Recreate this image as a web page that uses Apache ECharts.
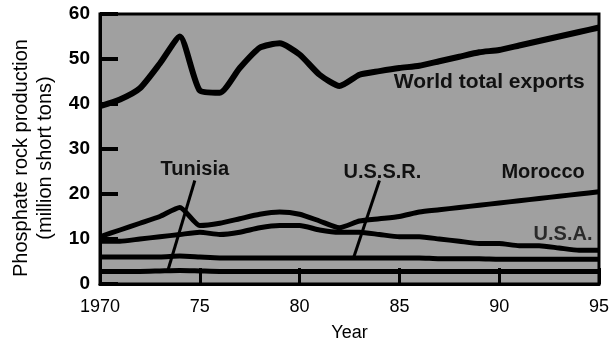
<!DOCTYPE html>
<html>
<head>
<meta charset="utf-8">
<script src="https://cdn.jsdelivr.net/npm/echarts@6/dist/echarts.min.js"></script>
<style>
  html, body { margin: 0; padding: 0; background: #fff; }
  #chart { width: 612px; height: 347px; }
</style>
</head>
<body>
<div id="chart"></div>
<script>
// ---- data (million short tons) ----
const years = [1970, 1971, 1972, 1973, 1974, 1975, 1976, 1977, 1978, 1979, 1980, 1981, 1982,
               1983, 1984, 1985, 1986, 1987, 1988, 1989, 1990, 1991, 1992, 1993, 1994, 1995];
const worldTotal = [39.5, 41, 43.5, 49, 55, 43, 42.5, 48, 52.5, 53.5, 51, 46.5, 44,
                    46.5, 47.3, 48, 48.5, 49.5, 50.5, 51.5, 52, 53, 54, 55, 56, 57];
const morocco = [10.5, 12, 13.5, 15, 17, 13, 13.5, 14.5, 15.5, 16, 15.5, 14, 12.5,
                 14, 14.5, 15, 16, 16.5, 17, 17.5, 18, 18.5, 19, 19.5, 20, 20.5];
const usa = [9.5, 9.5, 10, 10.5, 11, 11.5, 11, 11.5, 12.5, 13, 13, 12, 11.5,
             11.5, 11, 10.5, 10.5, 10, 9.5, 9, 9, 8.5, 8.5, 8, 7.5, 7.5];
const ussr = [6, 6, 6, 6, 6.2, 6, 5.8, 5.8, 5.8, 5.8, 5.8, 5.8, 5.8,
              5.8, 5.8, 5.8, 5.8, 5.6, 5.6, 5.6, 5.5, 5.5, 5.5, 5.5, 5.5, 5.5];
const tunisia = [2.8, 2.8, 2.8, 2.9, 3, 2.9, 2.8, 2.8, 2.8, 2.8, 2.8, 2.8, 2.8,
                 2.8, 2.8, 2.8, 2.8, 2.8, 2.8, 2.8, 2.8, 2.8, 2.8, 2.8, 2.8, 2.8];
const xTickLabels = {1970: '1970', 1975: '75', 1980: '80', 1985: '85', 1990: '90', 1995: '95'};
const yTicks = [0, 10, 20, 30, 40, 50, 60];
const seriesNames = ['World total exports', 'Morocco', 'U.S.A.', 'U.S.S.R.', 'Tunisia'];

const FONT = 'Liberation Sans, Arial, Helvetica, sans-serif';
const pairs = arr => years.map((y, i) => [y, arr[i]]);

const mp = (name, coord, size, color) => ({
  name, coord, symbol: 'circle', symbolSize: 1,
  itemStyle: { color: 'rgba(0,0,0,0)' },
  label: { show: true, formatter: name, color: color || '#111', fontFamily: FONT,
           fontWeight: 'bold', fontSize: size, position: 'inside' }
});

const chart = echarts.init(document.getElementById('chart'), null, { renderer: 'canvas' });
chart.setOption({
  animation: false,
  backgroundColor: '#fff',
  grid: { left: 100, right: 13, top: 14, bottom: 59, show: true,
          backgroundColor: '#a0a0a0', borderColor: '#000', borderWidth: 3 },
  xAxis: {
    type: 'value', min: 1970, max: 1995, interval: 5,
    name: 'Year', nameLocation: 'middle', nameGap: 40,
    nameTextStyle: { fontFamily: FONT, fontSize: 18, color: '#000' },
    axisLine: { show: true, lineStyle: { color: '#000', width: 3 } },
    axisTick: { show: true, inside: true, length: 16, lineStyle: { color: '#000', width: 3 } },
    axisLabel: { margin: 14, fontFamily: FONT, fontSize: 18, color: '#000',
                 formatter: v => xTickLabels[v] || '' },
    splitLine: { show: false }
  },
  yAxis: {
    type: 'value', min: yTicks[0], max: yTicks[yTicks.length - 1], interval: 10,
    axisLine: { show: true, lineStyle: { color: '#000', width: 3 } },
    axisTick: { show: true, inside: true, length: 18, lineStyle: { color: '#000', width: 4 } },
    axisLabel: { margin: 10, fontFamily: FONT, fontSize: 19, fontWeight: 'bold', color: '#000' },
    splitLine: { show: false }
  },
  graphic: [{
    type: 'text',
    style: { text: 'Phosphate rock production\n(million short tons)', font: '20px ' + FONT,
             fill: '#000', align: 'center', verticalAlign: 'middle', lineHeight: 24 },
    rotation: Math.PI / 2, x: 33, y: 158
  }],
  series: [
    { name: seriesNames[0], type: 'line', data: pairs(worldTotal), smooth: 0.2, symbol: 'none',
      lineStyle: { color: '#000', width: 6 },
      markPoint: { data: [mp(seriesNames[0], [1989.5, 44.8], 21)] } },
    { name: seriesNames[1], type: 'line', data: pairs(morocco), smooth: 0.2, symbol: 'none',
      lineStyle: { color: '#000', width: 5 },
      markPoint: { data: [mp(seriesNames[1], [1992.2, 24.8], 20)] } },
    { name: seriesNames[2], type: 'line', data: pairs(usa), smooth: 0.2, symbol: 'none',
      lineStyle: { color: '#000', width: 5 },
      markPoint: { data: [mp(seriesNames[2], [1993.2, 11], 20, '#2a2a2a')] } },
    { name: seriesNames[3], type: 'line', data: pairs(ussr), smooth: 0.2, symbol: 'none',
      lineStyle: { color: '#000', width: 5 },
      markPoint: { data: [mp(seriesNames[3], [1984.15, 24.8], 20)] },
      markLine: { silent: true, symbol: 'none', label: { show: false },
                  lineStyle: { color: '#000', width: 3, type: 'solid' },
                  data: [[{ coord: [1984.0, 23] }, { coord: [1982.7, 5.8] }]] } },
    { name: seriesNames[4], type: 'line', data: pairs(tunisia), smooth: 0.2, symbol: 'none',
      lineStyle: { color: '#000', width: 5 },
      markPoint: { data: [mp(seriesNames[4], [1974.75, 25.5], 20)] },
      markLine: { silent: true, symbol: 'none', label: { show: false },
                  lineStyle: { color: '#000', width: 3, type: 'solid' },
                  data: [[{ coord: [1974.75, 23] }, { coord: [1973.4, 3] }]] } }
  ]
});
</script>
</body>
</html>
